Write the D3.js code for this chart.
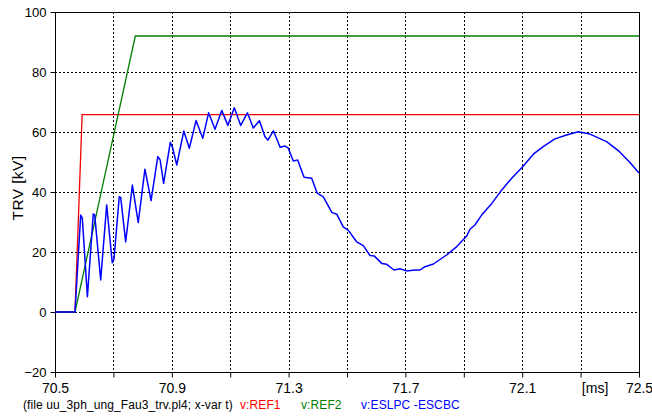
<!DOCTYPE html>
<html>
<head>
<meta charset="utf-8">
<title>TRV</title>
<style>
  body { margin: 0; background: #fff; }
  text { font-family: Arial, "Liberation Sans", sans-serif; }
</style>
</head>
<body>
<svg width="652" height="418"></svg>
<script src="https://d3js.org/d3.v7.min.js"></script>
<script>
// reference curves [t ms, kV]
var ref1 = [[70.5, 0], [70.5685, 0], [70.593, 65.8], [72.5, 65.8]];
var ref2 = [[70.5, 0], [70.5685, 0], [70.775, 92], [72.5, 92]];
// measured TRV ESLPC - ESCBC
var trvT = [70.5, 70.5685, 70.588, 70.5935, 70.611, 70.631, 70.636, 70.6565, 70.677, 70.696,
    70.702, 70.720, 70.725, 70.742, 70.765, 70.785, 70.808, 70.829, 70.852, 70.860,
    70.872, 70.895, 70.903, 70.917, 70.941, 70.960, 70.983, 71.006, 71.026, 71.048,
    71.071, 71.092, 71.114, 71.136, 71.159, 71.179, 71.200, 71.219, 71.229, 71.248,
    71.271, 71.288, 71.299, 71.316, 71.331, 71.353, 71.379, 71.398, 71.419, 71.448,
    71.465, 71.487, 71.504, 71.533, 71.556, 71.579, 71.593, 71.619, 71.636, 71.661,
    71.681, 71.704, 71.733, 71.750, 71.767, 71.796, 71.841, 71.876, 71.910, 71.921,
    71.938, 71.961, 71.996, 72.030, 72.064, 72.104, 72.138, 72.172, 72.212, 72.252,
    72.292, 72.332, 72.389, 72.429, 72.469, 72.500];
var trvV = [0, 0, 32.3, 31.3, 5.1, 32.7, 32.3, 10.7, 35.7, 16.4,
    17.6, 38.4, 38.2, 23.4, 42.3, 29.8, 47.6, 37.1, 51.8, 50.7,
    42.9, 56.6, 54.7, 49.0, 60.3, 54.6, 63.8, 57.9, 66.4, 60.9,
    67.2, 62.2, 68.1, 62.2, 66.4, 61.3, 63.8, 58.4, 57.3, 60.4,
    54.9, 55.3, 54.6, 50.3, 50.7, 44.9, 44.6, 39.6, 38.4, 33.2,
    32.6, 28.4, 27.3, 23.4, 22.1, 18.8, 18.7, 16.2, 15.9, 14.0,
    14.4, 13.7, 14.0, 14.0, 15.1, 16.0, 19.0, 21.8, 25.3, 27.6,
    29.0, 32.3, 36.2, 40.7, 44.6, 48.7, 52.6, 55.1, 57.7, 59.0,
    60.1, 59.3, 56.8, 53.8, 49.8, 46.3];
var xGrid = [70.5, 70.7, 70.9, 71.1, 71.3, 71.5, 71.7, 71.9, 72.1, 72.3, 72.5];
var xLabels = [70.5, 70.9, 71.3, 71.7, 72.1, 72.5];
var yTicks = [-20, 0, 20, 40, 60, 80, 100];

var svg = d3.select('svg');
var pLeft = 55, pRight = 639, pTop = 12, pBottom = 372;

var x = d3.scaleLinear().domain([70.5, 72.5]).range([pLeft, pRight]);
var y = d3.scaleLinear().domain([-20, 100]).range([pBottom, pTop]);

// grid
svg.append('g').selectAll('line').data(xGrid.slice(1, -1)).enter().append('line')
    .attr('x1', function (d) { return Math.round(x(d)) + 0.5; })
    .attr('x2', function (d) { return Math.round(x(d)) + 0.5; })
    .attr('y1', pTop).attr('y2', pBottom)
    .attr('stroke', '#000').attr('stroke-dasharray', '2,2');
svg.append('g').selectAll('line').data(yTicks.slice(1, -1)).enter().append('line')
    .attr('y1', function (d) { return Math.round(y(d)) + 0.5; })
    .attr('y2', function (d) { return Math.round(y(d)) + 0.5; })
    .attr('x1', pLeft).attr('x2', pRight)
    .attr('stroke', '#000').attr('stroke-dasharray', '2,2');

// axes
var xAxis = d3.axisBottom(x).tickValues(xGrid).tickSize(5).tickSizeOuter(0)
    .tickFormat(function (d) {
        if (Math.abs(d - 72.3) < 1e-6) return '[ms]';
        return xLabels.some(function (v) { return Math.abs(v - d) < 1e-6; }) ? d3.format('.1f')(d) : '';
    });
var gx = svg.append('g').attr('transform', 'translate(0,' + (pBottom + 0.5) + ')').call(xAxis);
gx.select('.domain').remove();
gx.selectAll('line').attr('stroke', '#000');
gx.selectAll('text').attr('font-size', '14px').attr('fill', '#000').attr('dy', '0.87em')
    .filter(function (d) { return Math.abs(d - 72.3) < 1e-6; }).attr('dx', '14px');

var yAxis = d3.axisLeft(y).tickValues(yTicks).tickSize(5).tickSizeOuter(0);
var gy = svg.append('g').attr('transform', 'translate(' + (pLeft + 0.5) + ',0)').call(yAxis);
gy.select('.domain').remove();
gy.selectAll('line').attr('stroke', '#000');
gy.selectAll('text').attr('font-size', '13px').attr('fill', '#000').attr('x', -9);

// frame
svg.append('rect').attr('x', pLeft + 0.5).attr('y', pTop + 0.5)
    .attr('width', pRight - pLeft).attr('height', pBottom - pTop)
    .attr('fill', 'none').attr('stroke', '#000');

svg.append('text').attr('transform', 'translate(23,188) rotate(-90)')
    .attr('text-anchor', 'middle').attr('font-size', '15.5px').attr('letter-spacing', '0.4px')
    .text('TRV [kV]');

// curves
var line = d3.line().x(function (d) { return x(d[0]); }).y(function (d) { return y(d[1]); });
svg.append('path').datum(ref1).attr('d', line).attr('fill', 'none')
    .attr('stroke', '#ee0000').attr('stroke-width', 1.3);
svg.append('path').datum(ref2).attr('d', line).attr('fill', 'none')
    .attr('stroke', '#008000').attr('stroke-width', 1.3);
svg.append('path').datum(d3.zip(trvT, trvV)).attr('d', line).attr('fill', 'none')
    .attr('stroke', '#0000ff').attr('stroke-width', 1.5).attr('stroke-linejoin', 'round');

// footer legend
var foot = svg.append('text').attr('x', 23).attr('y', 409).attr('font-size', '12px')
    .attr('letter-spacing', '0.1px');
foot.append('tspan').attr('fill', '#000').text('(file uu_3ph_ung_Fau3_trv.pl4; x-var t)');
foot.append('tspan').attr('x', 240).attr('fill', '#ff0000').text('v:REF1');
foot.append('tspan').attr('x', 301).attr('fill', '#008000').text('v:REF2');
foot.append('tspan').attr('x', 361).attr('fill', '#0000ff').text('v:ESLPC -ESCBC');
</script>
</body>
</html>
